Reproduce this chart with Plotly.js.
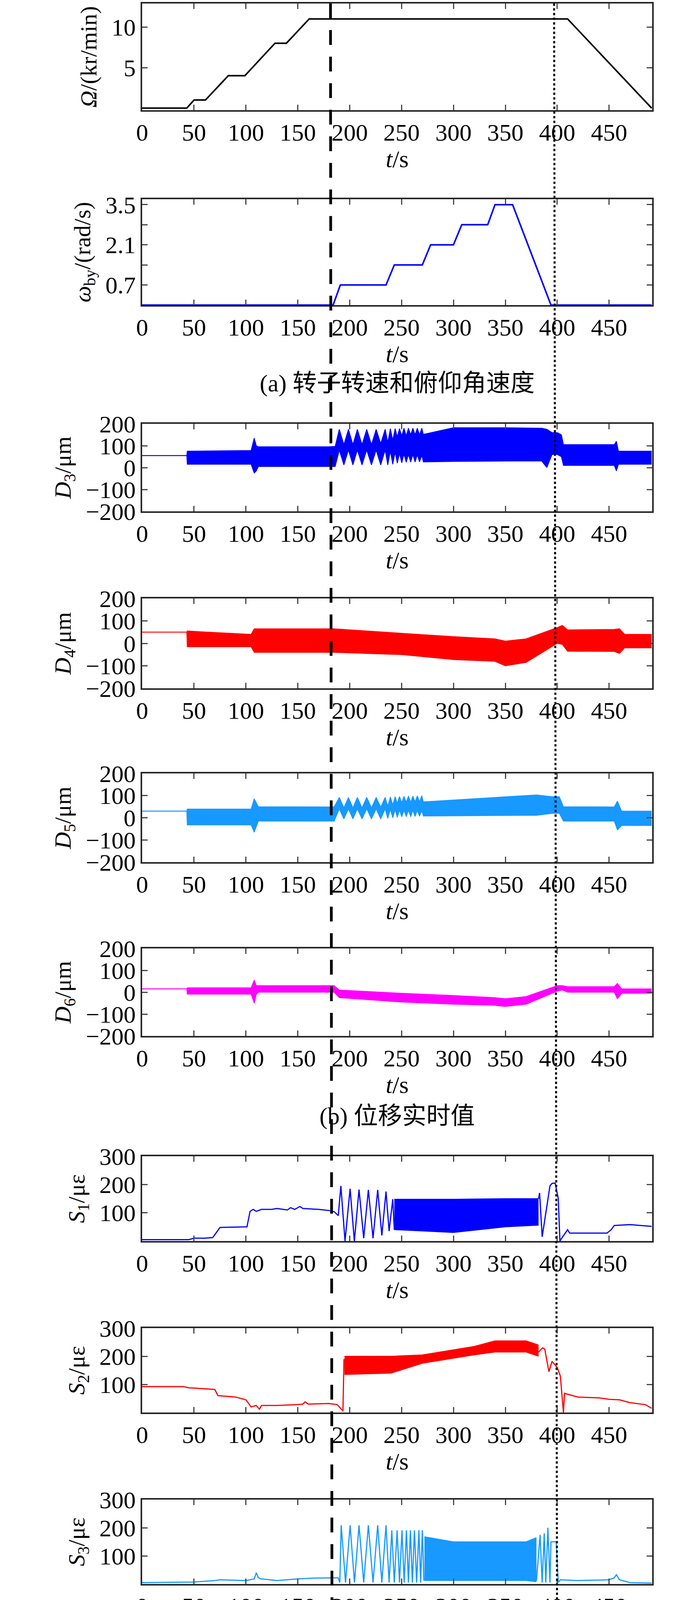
<!DOCTYPE html>
<html><head><meta charset="utf-8">
<script src="https://cdn.plot.ly/plotly-3.0.1.min.js"></script>
<style>body{margin:0;background:#fff}</style></head>
<body><div id="g" style="width:1772px;height:7536px"></div>
<script>
// ---------- data ----------
const xTicks=[0,50,100,150,200,250,300,350,400,450];
const Om_t=[0,43,50,61,83,99,128,139,161,410,491];
const Om_v=[0,0,1,1,4,4,8,8,11,11,0];
const Wb_t=[0,184,191,235,243,270,278,300,308,333,340,357,394,491];
const Wb_v=[0,0,0.7,0.7,1.4,1.4,2.1,2.1,2.8,2.8,3.5,3.5,0,0];

const D3_t=[0,43,43.5,105,108,110,112,180,186,190,194.4,198.8,203.1,207.4,211.9,216.4,221,225.5,229.9,234.2,236.7,239.2,241.5,243.8,245.9,248,250.2,252.3,254.5,256.6,258.8,260.9,263,265.2,267.3,269.5,271,300,350,385,390,395,400,404,406,455,457,459,491];
const D3_hi=[55,55,75,78,135,100,95,95,97,175,105,175,105,175,105,175,105,175,110,175,115,178,125,178,140,178,145,180,145,180,150,180,150,180,150,180,152,182,182,180,175,160,160,150,105,105,120,75,75];
const D3_lo=[55,55,15,15,-25,-15,5,5,5,80,12,80,12,80,12,80,12,80,12,80,12,75,15,70,20,65,22,62,24,60,25,60,25,58,26,56,26,28,30,30,0,60,60,50,10,10,-15,15,15];
const D4_t=[0,43,43.5,105,108,185,250,300,340,350,370,400,405,410,455,460,465,491];
const D4_hi=[50,50,55,40,65,65,45,30,20,10,20,70,80,60,62,65,40,40];
const D4_lo=[50,50,-15,-15,-40,-40,-50,-72,-80,-100,-85,0,-5,-35,-36,-45,-20,-20];
const D5_t=[0,43,43.5,105,108,112,185,190,194.4,198.8,203.1,207.4,211.9,216.4,221,225.5,229.9,234.2,236.7,239.2,241.5,243.8,245.9,248,250.2,252.3,254.5,256.6,258.8,260.9,263,265.2,267.3,269.5,271,380,395,402,406,455,458,462,491];
const D5_hi=[30,30,39,39,86,50,49,92,45,92,45,92,45,92,45,92,48,92,52,94,58,95,65,96,68,97,70,98,70,98,72,99,72,100,72,103,95,95,50,49,75,30,30];
const D5_lo=[30,30,-32,-32,-65,-15,-15,40,-5,40,-5,40,-5,40,-5,40,-5,40,-3,38,0,36,2,35,4,34,5,34,5,33,6,33,7,32,8,11,20,20,-15,-15,-55,-35,-35];
const D6_t=[0,43,43.5,105,108,110,112,185,190,250,300,340,350,370,400,405,410,455,458,462,491];
const D6_hi=[15,15,20,20,55,30,30,30,10,-5,-15,-25,-30,-20,30,30,25,25,40,15,15];
const D6_lo=[15,15,-9,-9,-50,-10,0,0,-25,-45,-55,-60,-65,-55,5,10,0,0,-30,-5,-5];

const S1_t=[0,45,50,60,68,75,100,101,104,107,110,115,125,130,140,143,147,152,155,170,180,185,189,191.5,195.5,200.4,204.5,209,213.5,218,222.5,227,231,235,238,241.5,243];
const S1_v=[5,5,10,10,12,48,50,50,105,112,105,112,112,115,110,118,112,122,115,112,108,104,90,195,0,185,0,182,10,181,10,181,20,175,35,148,40];
const S1b_t=[243,300,350,382];
const S1b_hi=[148,148,150,150];
const S1b_lo=[40,30,50,56];
const S1e_t=[382,383,385.5,390,393,395,398,401,402.6,404.3,410,412,430,448,452,455,470,491];
const S1e_v=[150,170,15,120,195,204,205,150,0,10,40,28,28,28,40,55,58,52];

const S2_t=[0,40,45,50,60,70,73,80,90,100,103,105,110,113,115,130,150,155,157,160,180,188,192,193.5,194.5];
const S2_v=[92,92,88,87,84,82,60,58,55,45,30,20,25,12,25,25,28,30,38,30,32,28,12,5,190];
const S2b_t=[195,240,270,320,340,370,382];
const S2b_hi=[200,200,205,235,255,255,240];
const S2b_lo=[135,140,175,205,215,215,200];
const S2e_t=[382,386,388,392,395,400,403,406,407,410,420,440,450,460,470,485,491];
const S2e_v=[215,230,225,145,182,160,130,0,68,65,55,52,47,45,35,28,15];

const S3_t=[0,50,70,75,100,108,110,112,115,130,150,165,185,189,190.5,191.8,196,200.4,204.6,209,213.5,218,222.5,227,231,235,238,240.6,243,245.7,248,250.4,252.5,254.7,256.6,258.5,260.4,262.4,264.5,266.7,268.4,270,271.5];
const S3_v=[5,7,12,15,12,18,40,22,18,12,18,21,22,22,5,209,5,209,5,209,5,209,5,209,5,209,5,191,5,191,5,191,5,191,5,191,5,191,5,191,5,191,12];
const S3b_t=[272,300,370,380];
const S3b_hi=[168,150,150,165];
const S3b_lo=[12,12,12,8];
const S3e_t=[380,383.5,385.5,387.5,389,391,393,394,399,401,403,420,450,455,457,460,470,491];
const S3e_v=[12,175,5,180,5,200,5,150,150,5,15,12,15,22,33,15,5,3];

const Vb_t=[190,195,200,210,220,230,240,245,250,260,270,280,290,300,310,315,320,325,330,340,345,350,355,360,370,380,390,395,400];
const V1_pre_t=[0,50,80,100,108,112,116,125,130,140,145,150,185,190];
const V1_pre_v=[0.2,0.2,0.3,0.4,0.8,2.3,0.6,0.4,0.5,0.4,0.8,0.4,0.4,0.4];
const V1_hi=[1.5,1.6,1.4,1.5,1.6,1.4,1.5,2.5,2.2,2.6,3.0,4.2,3.4,4.0,5.0,6.5,5.5,6.5,5.0,5.5,6.0,6.5,6.5,5.0,4.0,3.0,2.5,2.0,1.2];
const V1_lo=[0.3,0.4,0.5,0.5,0.5,0.5,0.6,0.8,0.8,0.9,0.9,1.0,1.0,1.0,1.0,1.1,1.2,1.2,1.2,1.3,1.3,1.3,1.2,1.2,1.2,1.0,0.9,0.8,0.8];
const V1_post_t=[400,410,415,420,430,440,445,452,457,461,470,491];
const V1_post_v=[0.9,0.9,0.5,0.3,0.7,0.6,0.4,0.8,2.0,0.6,0.4,0.2];
const V2_pre_t=[0,80,100,110,112,115,120,130,150,185,190];
const V2_pre_v=[0.1,0.2,0.3,0.5,1.1,0.8,0.6,0.5,0.5,0.6,0.6];
const V2_hi=[1.6,1.6,1.5,1.5,1.6,1.5,1.8,2.5,2.2,2.5,3.0,3.8,3.2,3.8,4.5,6.3,5.0,5.5,4.5,5.0,5.8,6.0,6.2,5.8,4.5,3.5,2.0,1.8,1.0];
const V2_lo=[0.4,0.5,0.5,0.5,0.5,0.5,0.6,0.7,0.7,0.8,0.8,0.9,0.9,0.9,1.0,1.0,1.0,1.1,1.1,1.1,1.2,1.2,1.1,1.1,1.0,0.9,0.8,0.7,0.6];
const V2_post_t=[400,405,410,415,430,450,457,462,491];
const V2_post_v=[0.7,0.6,1.0,0.5,0.3,0.6,1.0,0.4,0.2];
const V3_pre_t=[0,80,100,112,115,120,125,130,150,158,165,185,190];
const V3_pre_v=[0.2,0.3,0.4,1.2,1.5,0.9,1.0,0.5,0.6,0.9,0.5,0.5,0.5];
const V3_hi=[1.5,1.5,1.4,1.5,1.6,1.5,1.8,2.6,2.2,2.6,3.2,4.3,3.5,4.0,5.0,6.3,5.5,5.8,4.8,5.8,5.9,5.5,6.0,7.0,4.5,3.5,2.2,1.8,1.0];
const V3_lo=[0.5,0.5,0.5,0.5,0.6,0.6,0.6,0.8,0.8,0.9,0.9,1.0,1.0,1.0,1.0,1.1,1.1,1.2,1.2,1.2,1.2,1.2,1.2,1.1,1.0,0.9,0.8,0.7,0.6];
const V3_post_t=[400,405,410,425,430,445,450,455,460,465,491];
const V3_post_v=[0.6,0.5,0.7,0.9,0.4,0.7,1.2,0.8,1.2,0.4,0.2];
const V4_pre_t=[0,80,100,110,113,117,125,130,145,150,185,190];
const V4_pre_v=[0.2,0.2,0.4,1.0,2.2,0.9,1.2,0.6,0.6,0.4,0.5,0.5];
const V4_hi=[1.5,1.5,1.4,1.5,1.6,1.5,1.8,2.6,2.4,2.6,3.2,4.5,3.5,4.2,5.5,6.9,5.5,6.0,5.0,5.5,6.3,6.0,6.0,6.7,4.5,3.5,2.2,1.8,1.0];
const V4_lo=[0.5,0.6,0.6,0.6,0.6,0.7,0.8,1.0,1.0,1.0,1.1,1.1,1.2,1.2,1.2,1.3,1.3,1.3,1.3,1.3,1.3,1.3,1.2,1.2,1.1,1.0,0.9,0.7,0.5];
const V4_post_t=[400,405,410,420,440,447,452,457,463,491];
const V4_post_v=[0.5,0.3,0.9,0.3,0.4,1.2,0.6,1.8,0.5,0.2];

const P1_t=[0,48,55,65,80,100,108,110,112,120,150,185,190,195,200,210,220,230,235,240,250,300,350,390,395,398,400,405,410,450,455,460,480,491];
const P1_hi=[75,80,110,120,105,100,105,165,110,95,85,90,100,165,150,165,165,175,195,130,140,140,140,140,150,200,205,110,100,100,120,100,120,95];
const P1_lo=[75,70,40,25,40,40,20,25,40,50,50,50,40,-15,20,-15,-15,-20,-30,30,10,10,10,10,-15,-50,-50,30,40,40,10,30,25,60];
const P2_t=[0,45,50,80,100,105,108,112,115,120,150,185,190,193,195,200,210,220,240,250,300,350,380,400,405,420,440,450,456,460,470,485,491];
const P2_hi=[75,75,110,115,110,130,200,140,120,110,110,120,130,250,190,230,220,215,210,190,180,175,165,160,150,190,210,230,255,200,180,160,90];
const P2_lo=[75,75,40,35,40,20,-20,30,40,40,40,30,20,-75,0,-40,-60,-60,-45,-30,-20,-10,0,10,10,-10,-20,-30,-100,-20,0,10,60];
const P3_t=[0,45,50,60,70,75,80,90,100,105,110,120,130,150,185,190,195,200,250,300,380,395,400,405,410,420,440,455,458,460,470,480,490,491];
const P3_hi=[85,90,170,200,280,310,280,250,270,300,250,200,170,140,185,190,130,120,140,100,90,170,100,220,200,190,230,300,400,300,290,300,240,90];
const P3_lo=[85,80,0,-50,-100,-130,-60,-40,-50,-100,-40,-10,20,40,45,30,40,40,30,40,50,-30,60,-30,-50,-40,-60,-70,-70,-70,-60,-60,-60,80];

const captions=['(a) 转子转速和俯仰角速度','(b) 位移实时值','(c) 应变有效值','(d) 速度有效值','(e) 压力实时值'];

// ---------- layout helpers ----------
const H=7536, W=1772;
const FONT='Liberation Serif, Times New Roman, Noto Sans CJK SC, serif';
const BLUE='#0000FF', RED='#FF0000', LB='#1799FF', MAG='#FF00FF';
const panels=[
 [9,282],[510,781],[1085,1309],[1532,1762],[1980,2207],[2428,2652],
 [2960,3177],[3400,3616],[3839,4055],[4370,4579],[4799,5015],[5234,5450],[5670,5888],
 [6196,6414],[6634,6852],[7072,7289]];
const DT=['−200','−100','0','100','200'];
const yinfo=[
 {t:'<i>Ω</i>/(kr/min)',r:[-0.25,12.9],tv:[5,10]},
 {t:'<i>ω</i><sub>by</sub>/(rad/s)',r:[0,3.69],tv:[0.7,1.4,2.1,2.8,3.5],tt:['0.7',' ','2.1',' ','3.5']},
 {t:'<i>D</i><sub>3</sub>/μm',r:[-200,200],tv:[-200,-100,0,100,200],tt:DT},
 {t:'<i>D</i><sub>4</sub>/μm',r:[-200,200],tv:[-200,-100,0,100,200],tt:DT},
 {t:'<i>D</i><sub>5</sub>/μm',r:[-200,200],tv:[-200,-100,0,100,200],tt:DT},
 {t:'<i>D</i><sub>6</sub>/μm',r:[-200,200],tv:[-200,-100,0,100,200],tt:DT},
 {t:'<i>S</i><sub>1</sub>/με',r:[0,300],tv:[100,200,300]},
 {t:'<i>S</i><sub>2</sub>/με',r:[0,300],tv:[100,200,300]},
 {t:'<i>S</i><sub>3</sub>/με',r:[0,300],tv:[100,200,300]},
 {t:'<i>V</i><sub>1</sub>/(mm/s)',r:[0,10],tv:[5,10]},
 {t:'<i>V</i><sub>2</sub>/(mm/s)',r:[0,10],tv:[5,10]},
 {t:'<i>V</i><sub>3</sub>/(mm/s)',r:[0,10],tv:[5,10]},
 {t:'<i>V</i><sub>4</sub>/(mm/s)',r:[0,10],tv:[5,10]},
 {t:'<i>p</i><sub>1</sub>/kPa',r:[-134,414],tv:[0,138,276,414]},
 {t:'<i>p</i><sub>2</sub>/kPa',r:[-134,414],tv:[0,138,276,414]},
 {t:'<i>p</i><sub>3</sub>/kPa',r:[-134,414],tv:[0,138,276,414]}];

const layout={width:W,height:H,margin:{l:0,r:0,t:0,b:0},showlegend:false,
  paper_bgcolor:'#fff',plot_bgcolor:'#fff',font:{family:FONT,size:62,color:'#000'},shapes:[],annotations:[]};
const xd=[364/W,1670/W];
panels.forEach((p,i)=>{
  const n=i===0?'':(i+1);
  const ax={domain:xd,range:[0,491.5],tickvals:xTicks,ticks:'inside',ticklen:14,tickwidth:3,
    showline:true,linewidth:4,linecolor:'#262626',mirror:'ticks',showgrid:false,zeroline:false,
    tickfont:{size:62},anchor:'y'+n,title:{text:'<i>t</i>/s',standoff:6,font:{size:62}}};
  const yi=yinfo[i];
  const ay={domain:[1-p[1]/H,1-p[0]/H],range:yi.r,tickvals:yi.tv,ticks:'inside',ticklen:14,tickwidth:3,
    showline:true,linewidth:4,linecolor:'#262626',mirror:'ticks',showgrid:false,zeroline:false,
    tickfont:{size:62},anchor:'x'+n,title:{text:yi.t,standoff:20,font:{size:60}}};
  if(yi.tt) ay.ticktext=yi.tt;
  layout['xaxis'+n]=ax; layout['yaxis'+n]=ay;
});
const yTop=1-9/H, yBot=1-7289/H;
layout.shapes.push({type:'line',xref:'x',yref:'paper',x0:181.5,x1:184,y0:yTop,y1:yBot,line:{color:'#000',width:7,dash:'38px,30px'},layer:'above'});
layout.shapes.push({type:'line',xref:'x',yref:'paper',x0:397,x1:402,y0:yTop,y1:yBot,line:{color:'#000',width:5,dash:'6px,6px'},layer:'above'});
const capY=[981,2857,4264,6095,7497];
captions.forEach((c,i)=>layout.annotations.push({text:c,xref:'paper',yref:'paper',x:1017/W,y:1-capY[i]/H,
  showarrow:false,xanchor:'center',yanchor:'middle',font:{size:62,family:FONT}}));

// ---------- traces ----------
const traces=[];
function ax(i){const n=i===0?'':(i+1);return{xaxis:'x'+n,yaxis:'y'+n};}
function line(i,t,v,c,w){traces.push(Object.assign({type:'scatter',mode:'lines',x:t,y:v,line:{color:c,width:w||3},hoverinfo:'skip'},ax(i)));}
function band(i,t,hi,lo,c){
  traces.push(Object.assign({type:'scatter',mode:'lines',x:t,y:lo,line:{color:c,width:2},hoverinfo:'skip'},ax(i)));
  traces.push(Object.assign({type:'scatter',mode:'lines',x:t,y:hi,line:{color:c,width:2},fill:'tonexty',fillcolor:c,hoverinfo:'skip'},ax(i)));
}
line(0,Om_t,Om_v,'#000',4);
line(1,Wb_t,Wb_v,BLUE,4);
band(2,D3_t,D3_hi,D3_lo,BLUE);
band(3,D4_t,D4_hi,D4_lo,RED);
band(4,D5_t,D5_hi,D5_lo,LB);
band(5,D6_t,D6_hi,D6_lo,MAG);
line(6,S1_t,S1_v,BLUE,3); band(6,S1b_t,S1b_hi,S1b_lo,BLUE); line(6,S1e_t,S1e_v,BLUE,3);
line(7,S2_t,S2_v,RED,3); band(7,S2b_t,S2b_hi,S2b_lo,RED); line(7,S2e_t,S2e_v,RED,3);
line(8,S3_t,S3_v,LB,3); band(8,S3b_t,S3b_hi,S3b_lo,LB); line(8,S3e_t,S3e_v,LB,3);
[[V1_pre_t,V1_pre_v,V1_hi,V1_lo,V1_post_t,V1_post_v,BLUE],
 [V2_pre_t,V2_pre_v,V2_hi,V2_lo,V2_post_t,V2_post_v,RED],
 [V3_pre_t,V3_pre_v,V3_hi,V3_lo,V3_post_t,V3_post_v,LB],
 [V4_pre_t,V4_pre_v,V4_hi,V4_lo,V4_post_t,V4_post_v,MAG]].forEach((d,k)=>{
  line(9+k,d[0],d[1],d[6],3); band(9+k,Vb_t,d[2],d[3],d[6]); line(9+k,d[4],d[5],d[6],3);
});
band(13,P1_t,P1_hi,P1_lo,BLUE);
band(14,P2_t,P2_hi,P2_lo,RED);
band(15,P3_t,P3_hi,P3_lo,LB);

Plotly.newPlot('g',traces,layout,{staticPlot:true});
</script></body></html>
